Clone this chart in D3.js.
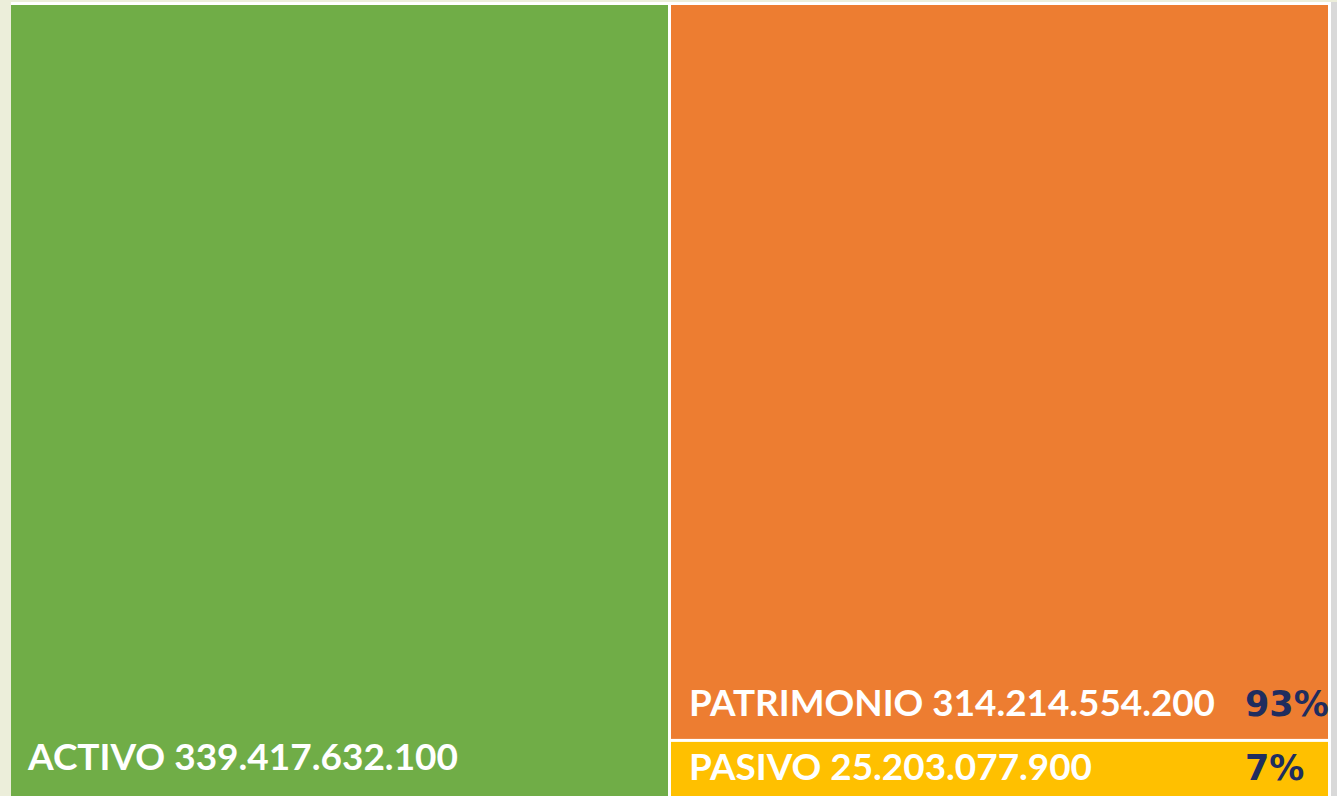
<!DOCTYPE html>
<html>
<head>
<meta charset="utf-8">
<script src="https://cdn.jsdelivr.net/npm/d3@7"></script>
<style>
  html, body { margin: 0; padding: 0; background: #ECEEDA; }
  svg { display: block; }
</style>
</head>
<body>
<svg id="chart" width="1337" height="796"></svg>
<script>
// ---- data ----
const categories = ["ACTIVO", "PATRIMONIO", "PASIVO"];
const values = [339417632100, 314214554200, 25203077900];
const groups = ["ACTIVO", "BALANCE", "BALANCE"];
const colors = ["#70AD47", "#ED7D31", "#FFC000"];

// ---- layout/style ----
const W = 1337, H = 796;
const svg = d3.select("#chart");

svg.append("rect").attr("x", 0).attr("y", 0).attr("width", W).attr("height", H).attr("fill", "#ECEEDA");
svg.append("rect").attr("x", 1331).attr("y", 2).attr("width", 6).attr("height", H).attr("fill", "#D9D9D9");
svg.append("rect").attr("x", 11).attr("y", 2).attr("width", 1320).attr("height", H).attr("fill", "#FFFFFF");

const rootData = { name: "root", children: [] };
categories.forEach((c, i) => {
  if (groups[i] === c) {
    rootData.children.push({ name: c, value: values[i], color: colors[i] });
  } else {
    let g = rootData.children.find(d => d.name === groups[i]);
    if (!g) { g = { name: groups[i], children: [] }; rootData.children.push(g); }
    g.children.push({ name: c, value: values[i], color: colors[i] });
  }
});

const root = d3.hierarchy(rootData).sum(d => d.children ? 0 : d.value);
const tile = (node, x0, y0, x1, y1) =>
  node.depth === 0 ? d3.treemapDice(node, x0, y0, x1, y1) : d3.treemapSlice(node, x0, y0, x1, y1);

const OX = 11, OY = 5;
d3.treemap()
  .tile(tile)
  .size([1317, 793])
  .paddingInner(3)
  .round(false)(root);

const g = svg.append("g").attr("transform", `translate(${OX},${OY})`);
const leaves = root.leaves();
const total = values[0];
const fmt = v => d3.format(",")(v).replace(/,/g, ".");

g.selectAll("rect.cell")
  .data(leaves)
  .join("rect")
  .attr("class", "cell")
  .attr("x", d => d.x0)
  .attr("y", d => d.y0)
  .attr("width", d => d.x1 - d.x0)
  .attr("height", d => d.y1 - d.y0)
  .attr("fill", d => d.data.color);

const labelStyle = {
  ACTIVO: { dx: 17, dy: -28, width: 430 },
  PATRIMONIO: { dx: 18, dy: -23, width: 526 },
  PASIVO: { dx: 18, dy: -18, width: 403 }
};

g.selectAll("text.lbl")
  .data(leaves)
  .join("text")
  .attr("class", "lbl")
  .attr("x", d => d.x0 + labelStyle[d.data.name].dx)
  .attr("y", d => d.y1 + labelStyle[d.data.name].dy)
  .attr("textLength", d => labelStyle[d.data.name].width)
  .attr("lengthAdjust", "spacingAndGlyphs")
  .attr("fill", "#FFFFFF")
  .attr("font-family", "Lato, 'Open Sans', sans-serif")
  .attr("font-weight", 700)
  .attr("font-size", 36)
  .text(d => d.data.name + " " + fmt(d.data.value));

g.selectAll("text.pct")
  .data(leaves.filter(d => d.depth === 2))
  .join("text")
  .attr("class", "pct")
  .attr("x", d => d.x1 - 83)
  .attr("y", d => d.y1 + labelStyle[d.data.name].dy)
  .attr("fill", "#1F2D5F")
  .attr("font-family", "'DejaVu Sans', Verdana, sans-serif")
  .attr("font-weight", 700)
  .attr("font-size", 35)
  .text(d => Math.round(d.data.value / total * 100) + "%");
</script>
</body>
</html>
